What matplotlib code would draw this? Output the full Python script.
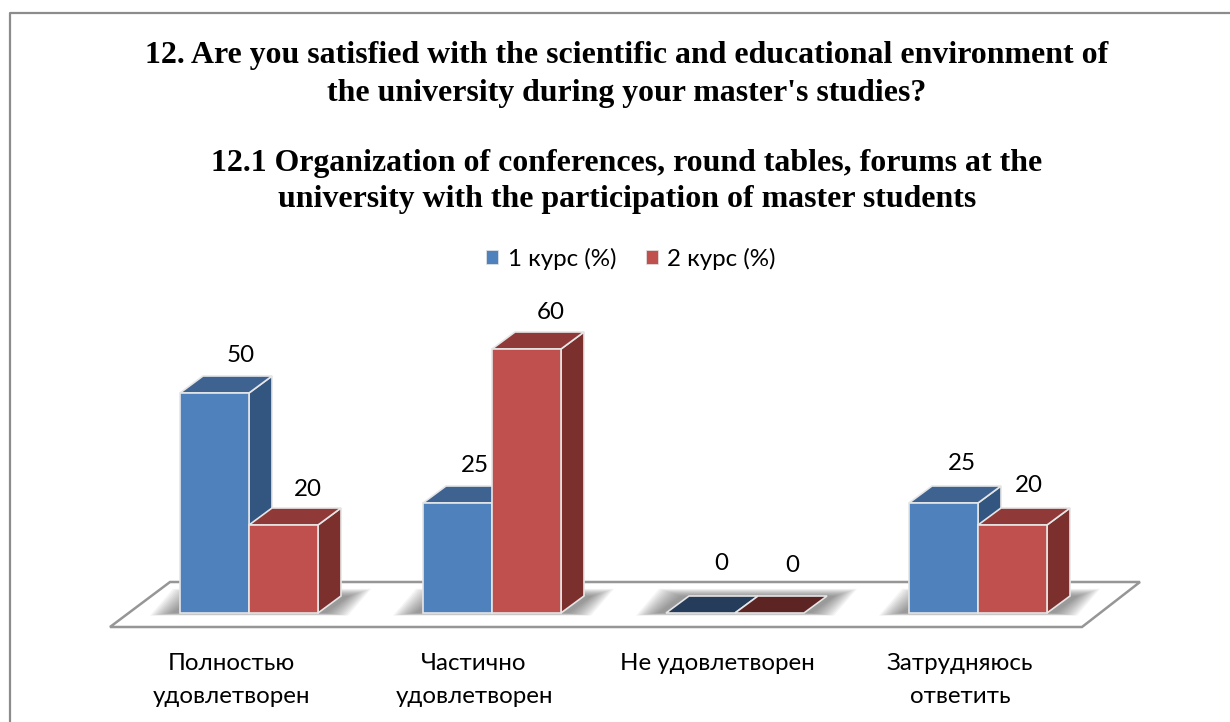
"""
3D-looking grouped bar chart: master students' satisfaction, by year of study.
"""

import matplotlib
matplotlib.use("Agg")
import matplotlib.pyplot as plt
from matplotlib.patches import Patch

WIDTH, HEIGHT = 1230, 722

categories = ["Полностью\nудовлетворен", "Частично\nудовлетворен", "Не удовлетворен", "Затрудняюсь\nответить"]
series_names = ["1 курс (%)", "2 курс (%)"]
course1 = [50, 25, 0, 25]
course2 = [20, 60, 0, 20]
title_lines = [
    "12. Are you satisfied with the scientific and educational environment of",
    "the university during your master's studies?",
    "12.1 Organization of conferences, round tables, forums at the",
    "university with the participation of master students",
]

# pixel scales of the picture
X0, STEP = 249, 243
Y0, UNIT = 613, 4.4
BAR_W = 69 / STEP
DX, DY = 23 / STEP, 17 / UNIT

BLUE = dict(front="#4f81bd", top="#3f6390", side="#325680", flat="#253d5a")
RED = dict(front="#c0504d", top="#8f3a38", side="#7b302e", flat="#5c2524")
EDGE = "#e6e6e6"
LABEL_FONT = ["Lato", "Noto Sans", "DejaVu Sans"]
LABEL_SIZE = 17.4

# hand placement of the data labels, in pixels from the bar's front top centre
label_shift1 = [26, 17, 21, 18]
label_shift2 = [24, 24, 23, 16]
label_lift1 = [37, 37, 50, 39]
label_lift2 = [35, 36, 48, 39]


def px(x):
    return (x - X0) / STEP


def py(y):
    return (Y0 - y) / UNIT


def draw_bar(ax, left, value, colors):
    right = left + BAR_W
    if value == 0:
        ax.fill([left, right, right + DX, left + DX], [0, 0, DY, DY],
                color=colors["flat"], ec=EDGE, lw=1.2, zorder=3)
        return
    ax.fill([right, right + DX, right + DX, right], [0, DY, value + DY, value],
            color=colors["side"], ec=EDGE, lw=1.2, zorder=3)
    ax.fill([left, right, right + DX, left + DX], [value, value, value + DY, value + DY],
            color=colors["top"], ec=EDGE, lw=1.2, zorder=3)
    ax.bar(left, value, BAR_W, align="edge", color=colors["front"], edgecolor=EDGE, lw=1.2, zorder=3)


def draw_shadow(ax, center):
    # soft shadow on the floor, built from stacked translucent shapes
    for k in range(14):
        grow = (13 - k) * 1.7 / STEP
        rise = (13 - k) * 0.55 / UNIT
        drop = (13 - k) * 0.2 / UNIT
        left = center - BAR_W - 8 / STEP - grow
        right = center + BAR_W + DX + 8 / STEP + grow
        ax.fill([left, right - DX, right, left + DX],
                [-drop, -drop, DY + rise, DY + rise],
                color="#555555", alpha=0.06, lw=0, zorder=2)


fig = plt.figure(figsize=(WIDTH / 100, HEIGHT / 100), dpi=100)
ax = fig.add_axes([0, 0, 1, 1])
ax.set_xlim(px(0), px(WIDTH))
ax.set_ylim(py(HEIGHT), py(0))
ax.axis("off")

# chart frame: only top and left edges are inside the picture
ax.plot([px(9.5), px(9.5), px(WIDTH)], [py(HEIGHT), py(12.5), py(12.5)], color="#8c8c8c", lw=1.6, zorder=1)

# floor
ax.fill([px(110), px(1082), px(1140), px(170)], [py(627), py(627), py(582), py(582)],
        facecolor="white", edgecolor="#969696", lw=1.8, joinstyle="miter", zorder=1)

for i in range(len(categories)):
    draw_shadow(ax, i)
    draw_bar(ax, i - BAR_W, course1[i], BLUE)
    draw_bar(ax, i, course2[i], RED)

    ax.text(i - BAR_W / 2 + label_shift1[i] / STEP, course1[i] + label_lift1[i] / UNIT, str(course1[i]),
            ha="center", va="center", fontsize=LABEL_SIZE, family=LABEL_FONT, color="black", zorder=4)
    ax.text(i + BAR_W / 2 + label_shift2[i] / STEP, course2[i] + label_lift2[i] / UNIT, str(course2[i]),
            ha="center", va="center", fontsize=LABEL_SIZE, family=LABEL_FONT, color="black", zorder=4)

    ax.text(i - 18 / STEP, py(653), categories[i], ha="center", va="top",
            fontsize=LABEL_SIZE, family=LABEL_FONT, linespacing=1.68, color="black")

for text, y in zip(title_lines, [56, 93, 163, 200]):
    ax.text(px(627), py(y), text, ha="center", va="center", fontsize=22.95,
            family="Liberation Serif", weight="bold", color="black")

handles = [Patch(facecolor=BLUE["front"], edgecolor=EDGE, lw=0.5),
           Patch(facecolor=RED["front"], edgecolor=EDGE, lw=0.5)]
ax.legend(handles, series_names, loc="center", bbox_to_anchor=(631 / WIDTH, 1 - 258.5 / HEIGHT),
          ncol=2, frameon=False, handlelength=0.5, handleheight=0.5, handletextpad=0.4,
          columnspacing=1.2, prop={"family": LABEL_FONT, "size": LABEL_SIZE})

fig.savefig("out.png", dpi=100, facecolor="white")
